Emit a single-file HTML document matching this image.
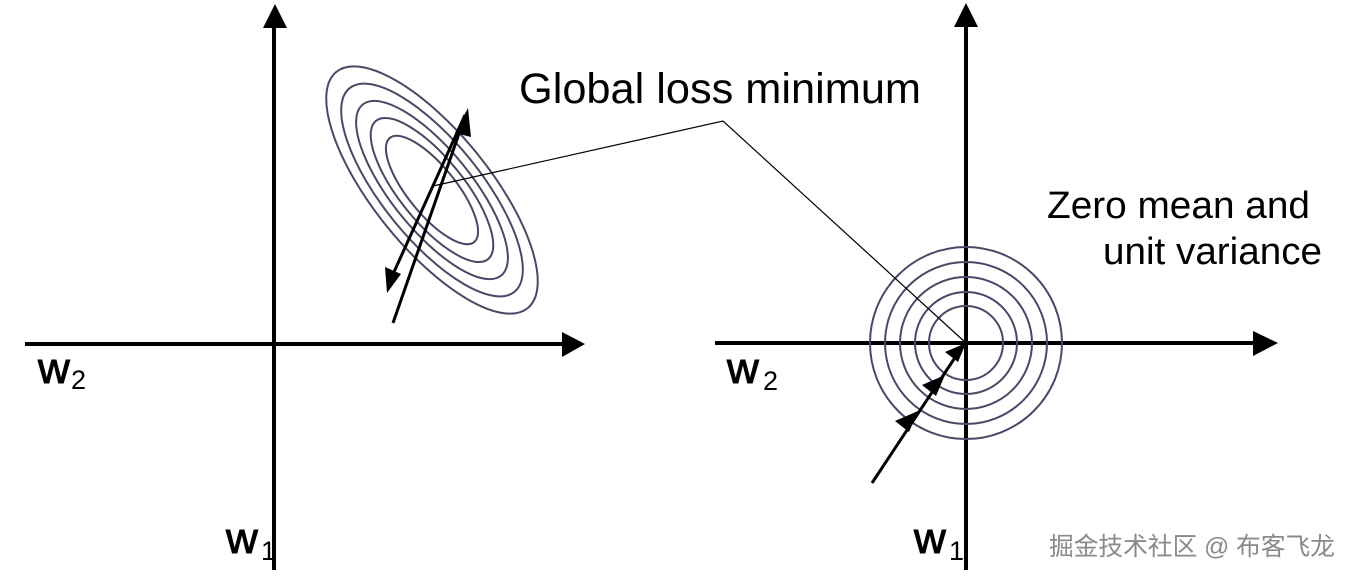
<!DOCTYPE html>
<html><head><meta charset="utf-8"><style>
html,body{margin:0;padding:0;background:#fff;}
svg{display:block;}
text{font-family:"Liberation Sans","Noto Sans CJK SC",sans-serif;fill:#000;}
</style></head><body>
<svg width="1353" height="578" viewBox="0 0 1353 578" xmlns="http://www.w3.org/2000/svg">
<!-- Left axes -->
<line x1="274" y1="570" x2="274" y2="26" stroke="#000" stroke-width="4"/>
<polygon points="275,4 263,28 287,28" fill="#000"/>
<line x1="25" y1="344" x2="564" y2="344" stroke="#000" stroke-width="4"/>
<polygon points="585,344 562,332 562,357" fill="#000"/>
<!-- Right axes -->
<line x1="966" y1="570" x2="966" y2="26" stroke="#000" stroke-width="4"/>
<polygon points="966,3 954,27 978,27" fill="#000"/>
<line x1="715" y1="343" x2="1255" y2="343" stroke="#000" stroke-width="4"/>
<polygon points="1278,343 1253,331 1253,356" fill="#000"/>
<!-- Left ellipses -->
<g fill="none" stroke="#4a4866" stroke-width="2" transform="translate(432,190) rotate(51)">
<ellipse rx="152" ry="58"/>
<ellipse rx="131" ry="49"/>
<ellipse rx="110" ry="40"/>
<ellipse rx="89" ry="32"/>
<ellipse rx="67" ry="24"/>
</g>
<!-- Right circles -->
<g fill="none" stroke="#4a4866" stroke-width="2">
<circle cx="966" cy="343" r="96"/>
<circle cx="966" cy="343" r="81"/>
<circle cx="966" cy="343" r="66"/>
<circle cx="966" cy="343" r="51"/>
<circle cx="966" cy="343" r="37"/>
</g>
<!-- Left arrows -->
<line x1="393" y1="323" x2="462" y2="125" stroke="#000" stroke-width="3"/>
<polygon points="468,108 455,133 471,137" fill="#000"/>
<line x1="465" y1="115" x2="394" y2="272" stroke="#000" stroke-width="3"/>
<polygon points="387,293 385,267 401,274" fill="#000"/>
<!-- Right arrows -->
<line x1="872" y1="483" x2="958" y2="353" stroke="#000" stroke-width="3"/>
<polygon points="966,343 945,352 958,362" fill="#000"/>
<polygon points="945,375 922,385 936,396" fill="#000"/>
<polygon points="918,411 895,421 909,432" fill="#000"/>
<!-- Leader line -->
<polyline points="433,186 723,121 966,343" fill="none" stroke="#000" stroke-width="1.2"/>
<!-- Labels -->
<text x="519" y="103" font-size="43" textLength="402" lengthAdjust="spacingAndGlyphs">Global loss minimum</text>
<text x="1047" y="218" font-size="38" textLength="263" lengthAdjust="spacingAndGlyphs">Zero mean and</text>
<text x="1103" y="264" font-size="38" textLength="219" lengthAdjust="spacingAndGlyphs">unit variance</text>
<text x="38" y="383" font-size="44" stroke="#000" stroke-width="1">w</text>
<text x="71" y="389" font-size="27">2</text>
<text x="226" y="553" font-size="44" stroke="#000" stroke-width="1">w</text>
<text x="261" y="560" font-size="27">1</text>
<text x="727" y="383" font-size="44" stroke="#000" stroke-width="1">w</text>
<text x="763" y="390" font-size="27">2</text>
<text x="914" y="553" font-size="44" stroke="#000" stroke-width="1">w</text>
<text x="949" y="560" font-size="27">1</text>
<text x="1049" y="555" font-size="25" style="fill:#8a8a8a" textLength="286" lengthAdjust="spacingAndGlyphs">掘金技术社区 @ 布客飞龙</text>
</svg>
</body></html>
